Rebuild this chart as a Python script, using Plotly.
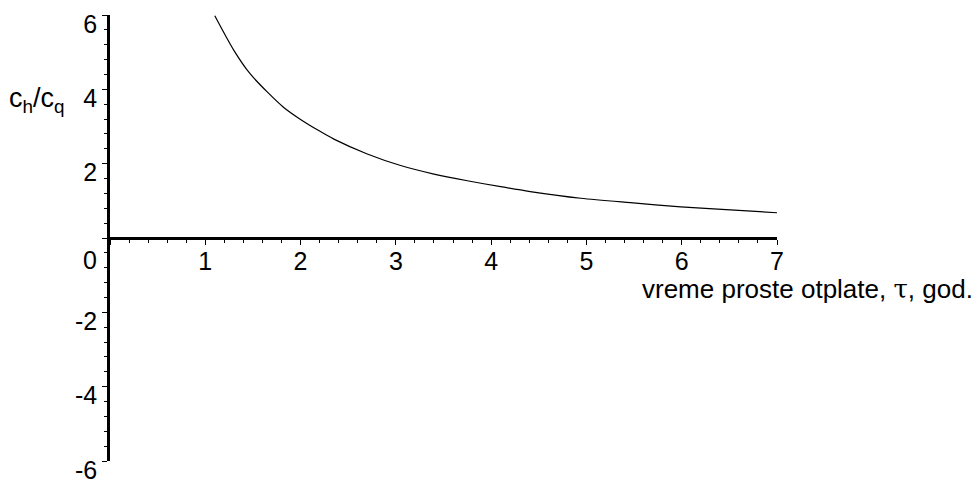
import plotly.graph_objects as go

# payback time (years)
tau = [1.10, 1.30, 1.47, 1.65, 1.82, 2.00, 2.19, 2.35, 2.70, 3.05, 3.40, 3.75,
       4.10, 4.41, 4.94, 5.46, 5.99, 6.51, 7.00]
# ratio c_h/c_q
ratio = [5.98, 5.05, 4.42, 3.93, 3.52, 3.19, 2.89, 2.66, 2.26, 1.95, 1.72, 1.54,
         1.38, 1.25, 1.07, 0.95, 0.84, 0.755, 0.68]

x_ticks = [0, 1, 2, 3, 4, 5, 6, 7]
x_labels = ["", "1", "2", "3", "4", "5", "6", "7"]
y_ticks = [-6, -4, -2, 0, 2, 4, 6]
y_labels = ["-6", "-4", "-2", "", "2", "4", "6"]

FONT = "Liberation Sans, Arial, sans-serif"

fig = go.Figure()
fig.add_trace(go.Scatter(x=tau, y=ratio, mode="lines",
                         line=dict(color="black", width=1.2, shape="spline", smoothing=0.8),
                         showlegend=False, hoverinfo="skip"))

fig.update_layout(
    width=980, height=480,
    margin=dict(l=110, r=203, t=15, b=19),
    paper_bgcolor="white", plot_bgcolor="white",
    font=dict(family=FONT, size=25, color="black"),
    xaxis=dict(range=[0, 7], anchor="free", position=0.5, showline=True, linecolor="black", linewidth=2.5,
               showgrid=False, zeroline=False, tickmode="array", tickvals=x_ticks, ticktext=x_labels,
               ticks="outside", ticklen=5, tickwidth=1, tickcolor="black",
               minor=dict(tickmode="linear", tick0=0, dtick=0.2, ticks="outside", ticklen=3,
                          tickcolor="black", showgrid=False),
               tickfont=dict(size=25), ticklabelstandoff=-5, automargin=False, fixedrange=True),
    yaxis=dict(range=[-6, 6], showline=True, linecolor="black", linewidth=2.5,
               showgrid=False, zeroline=False, tickmode="array", tickvals=y_ticks, ticktext=y_labels,
               ticks="outside", ticklen=5, tickwidth=1, tickcolor="black",
               minor=dict(tickmode="linear", tick0=0, dtick=0.4, ticks="outside", ticklen=3,
                          tickcolor="black", showgrid=False),
               tickfont=dict(size=25), ticklabelshift=9, ticklabelstandoff=0,
               ticklabeloverflow="allow", automargin=False, fixedrange=True),
    annotations=[
        dict(text="vreme proste otplate, <span style=\"font-family:'DejaVu Serif'\">τ</span>, god.",
             xref="paper", yref="paper", x=(640 - 110) / 667, y=(461 - 289) / 446,
             xanchor="left", yanchor="middle", showarrow=False, font=dict(size=26, family=FONT)),
        dict(text="c<sub>h</sub>/c<sub>q</sub>", xref="paper", yref="paper",
             x=(37 - 110) / 667, y=(461 - 100) / 446, xanchor="center", yanchor="middle",
             showarrow=False, font=dict(size=27, family=FONT)),
        dict(text="0", xref="paper", yref="paper", x=(90 - 110) / 667, y=(461 - 260) / 446,
             xanchor="center", yanchor="middle", showarrow=False, font=dict(size=25, family=FONT)),
    ],
)

fig.write_html("out.html")
